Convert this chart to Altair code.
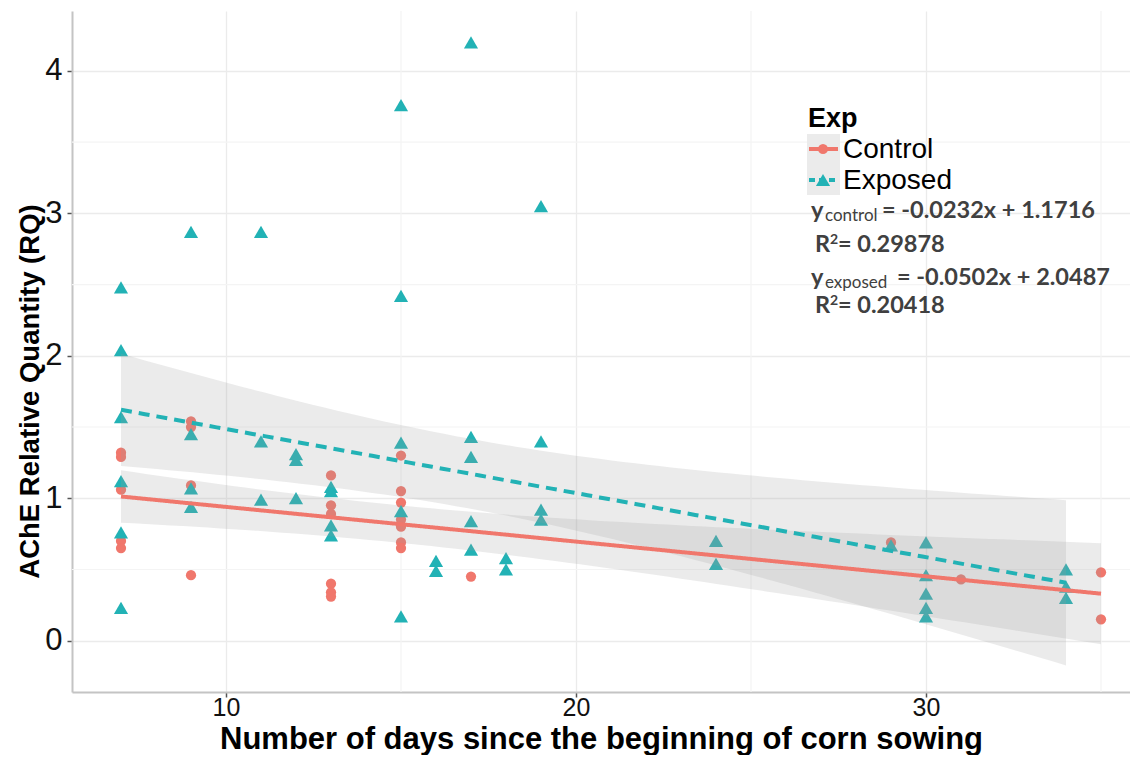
import altair as alt
import numpy as np
import pandas as pd

# ---------------- data ----------------
groups = ["Control", "Exposed"]
colors = ["#F0776C", "#22B2B5"]
shapes = ["circle", "triangle-up"]

control_days = [7, 7, 7, 7, 7,
                9, 9, 9, 9,
                13, 13, 13, 13, 13, 13,
                15, 15, 15, 15, 15, 15, 15,
                17, 29, 31, 35, 35]
control_rq = [1.32, 1.29, 1.06, 0.70, 0.65,
              1.54, 1.50, 1.09, 0.46,
              1.16, 0.95, 0.89, 0.40, 0.34, 0.31,
              1.30, 1.05, 0.97, 0.85, 0.80, 0.69, 0.65,
              0.45, 0.69, 0.43, 0.48, 0.15]

exposed_days = [7, 7, 7, 7, 7, 7,
                9, 9, 9, 9,
                11, 11, 11,
                12, 12, 12,
                13, 13, 13, 13,
                15, 15, 15, 15, 15,
                16, 16,
                17, 17, 17, 17, 17,
                18, 18,
                19, 19, 19, 19,
                24, 24,
                29,
                30, 30, 30, 30, 30,
                34, 34, 34]
exposed_rq = [2.48, 2.04, 1.57, 1.12, 0.76, 0.23,
              2.87, 1.45, 1.07, 0.94,
              2.87, 1.40, 0.99,
              1.31, 1.27, 1.00,
              1.08, 1.05, 0.81, 0.74,
              3.76, 2.42, 1.39, 0.91, 0.17,
              0.56, 0.49,
              4.20, 1.43, 1.29, 0.84, 0.64,
              0.58, 0.50,
              3.05, 1.40, 0.92, 0.85,
              0.70, 0.54,
              0.67,
              0.69, 0.46, 0.33, 0.23, 0.17,
              0.50, 0.38, 0.30]

x_major = [10, 20, 30]
x_minor = [15, 25, 35]
y_major = [0, 1, 2, 3, 4]
y_minor = [0.5, 1.5, 2.5, 3.5]

equations = [
    ("y", "control", "= -0.0232x + 1.1716"),
    ("R", "2", "= 0.29878"),
    ("y", "exposed", "= -0.0502x + 2.0487"),
    ("R", "2", "= 0.20418"),
]

# ---------------- linear fit with 95% confidence band (like geom_smooth(method="lm")) ----
def lm_band(xs, ys, npts=80):
    x = np.asarray(xs, float)
    y = np.asarray(ys, float)
    n = len(x)
    xm, ym = x.mean(), y.mean()
    sxx = ((x - xm) ** 2).sum()
    b = ((x - xm) * (y - ym)).sum() / sxx
    a = ym - b * xm
    s = np.sqrt(((y - (a + b * x)) ** 2).sum() / (n - 2))
    df = n - 2
    z = 1.959964
    t = z + (z ** 3 + z) / (4 * df) + (5 * z ** 5 + 16 * z ** 3 + 3 * z) / (96 * df ** 2)
    g = np.linspace(x.min(), x.max(), npts)
    f = a + b * g
    se = s * np.sqrt(1.0 / n + (g - xm) ** 2 / sxx)
    return g, f, f - t * se, f + t * se

pts = pd.concat([
    pd.DataFrame({"day": control_days, "rq": control_rq, "Exp": "Control"}),
    pd.DataFrame({"day": exposed_days, "rq": exposed_rq, "Exp": "Exposed"}),
], ignore_index=True)

fits = []
for gname, xs_, ys_ in [("Control", control_days, control_rq), ("Exposed", exposed_days, exposed_rq)]:
    g, f, lo, hi = lm_band(xs_, ys_)
    fits.append(pd.DataFrame({"day": g, "fit": f, "lo": lo, "hi": hi, "Exp": gname}))
fit_df = pd.concat(fits, ignore_index=True)

# ---------------- scales / axes ----------------
LAB_FONT = "Liberation Sans"
PX_PER_DAY = 35
PLOT_W = 1058
xscale = alt.Scale(domain=[5.6, 5.6 + PLOT_W / PX_PER_DAY], nice=False, zero=False)
yscale = alt.Scale(domain=[-0.36, 4.42], nice=False, zero=False)

xaxis = alt.Axis(values=x_major, title="Number of days since the beginning of corn sowing",
                 grid=True, gridColor="#ebebeb", gridWidth=1.3,
                 domain=True, domainColor="#c4c4c4", domainWidth=2,
                 ticks=True, tickColor="#555555", tickSize=5, tickWidth=1.5,
                 labelFont=LAB_FONT, labelFontSize=25, labelColor="#111111", labelPadding=-2,
                 titleFont=LAB_FONT, titleFontSize=31, titleFontWeight="bold", titleColor="#000000",
                 titleBaseline="alphabetic", titleY=56)
yaxis = alt.Axis(values=y_major, title="AChE Relative Quantity (RQ)",
                 grid=True, gridColor="#ebebeb", gridWidth=1.3,
                 domain=True, domainColor="#c4c4c4", domainWidth=2,
                 ticks=True, tickColor="#555555", tickSize=5, tickWidth=1.5,
                 labelFont=LAB_FONT, labelFontSize=31, labelColor="#111111", labelPadding=5,
                 titleFont=LAB_FONT, titleFontSize=27.5, titleFontWeight="bold", titleColor="#000000",
                 titleAngle=270, titleBaseline="middle", titleAlign="center",
                 titleX=-42, titleY=380)

def X(field):
    return alt.X(field, type="quantitative", scale=xscale, axis=xaxis)

def Y(field):
    return alt.Y(field, type="quantitative", scale=yscale, axis=yaxis)

color = alt.Color("Exp:N", scale=alt.Scale(domain=groups, range=colors), legend=None)
shape = alt.Shape("Exp:N", scale=alt.Scale(domain=groups, range=shapes), legend=None)
size = alt.Size("Exp:N", scale=alt.Scale(domain=groups, range=[105, 200]), legend=None)
dash = alt.StrokeDash("Exp:N", scale=alt.Scale(domain=groups, range=[[1, 0], [11, 7]]), legend=None)

minor_y = alt.Chart(pd.DataFrame({"v": y_minor})).mark_rule(color="#f4f4f4", strokeWidth=1.2).encode(y=Y("v"))
minor_x = alt.Chart(pd.DataFrame({"v": x_minor})).mark_rule(color="#f4f4f4", strokeWidth=1.2).encode(x=X("v"))

points = alt.Chart(pts).mark_point(filled=True, opacity=1).encode(
    x=X("day"), y=Y("rq"), color=color, shape=shape, size=size)

bands = alt.Chart(fit_df).mark_area(color="#999999", opacity=0.2).encode(
    x=X("day"), y=Y("lo"), y2="hi", detail="Exp:N")

lines = alt.Chart(fit_df).mark_line(strokeWidth=4).encode(
    x=X("day"), y=Y("fit"), color=color, strokeDash=dash)

# ---------------- legend (inside plot, top right) ----------------
OX, OY = 72, 11  # page position of plot origin
one = pd.DataFrame({"a": [0]})
leg_layers = [
    alt.Chart(one).mark_rect(color="#ebebeb").encode(
        x=alt.value(807 - OX), x2=alt.value(840 - OX), y=alt.value(134 - OY), y2=alt.value(195 - OY)),
    alt.Chart(one).mark_text(
        text="Exp", font=LAB_FONT, fontSize=27, fontWeight="bold", align="left",
        baseline="alphabetic", color="#000000").encode(x=alt.value(808 - OX), y=alt.value(127 - OY)),
]
key_dashes = [[1, 0], [6, 4]]
key_sizes = [105, 200]
for i, (gname, col, shp) in enumerate(zip(groups, colors, shapes)):
    yy = 149 + 31 * i - OY
    leg_layers.append(alt.Chart(one).mark_rule(
        color=col, strokeWidth=4, strokeDash=key_dashes[i]).encode(
        x=alt.value(809 - OX), x2=alt.value(838 - OX), y=alt.value(yy)))
    leg_layers.append(alt.Chart(one).mark_point(
        shape=shp, filled=True, size=key_sizes[i], color=col, opacity=1).encode(
        x=alt.value(823 - OX), y=alt.value(yy)))
    leg_layers.append(alt.Chart(one).mark_text(
        text=gname, font=LAB_FONT, fontSize=28, align="left", baseline="middle",
        color="#000000").encode(x=alt.value(843 - OX), y=alt.value(yy + 1)))

# ---------------- regression equations ----------------
EQ_FONT = "Lato"
EQ_COL = "#404040"
eq_layers = []
base_lines = [218, 252, 285, 313]
for (main, sub, rest), bl in zip(equations, base_lines):
    is_r = main == "R"
    eq_layers.append(alt.Chart(one).mark_text(
        text=main, font=EQ_FONT, fontSize=23.5, fontWeight="bold", color=EQ_COL,
        align="left", baseline="alphabetic").encode(
        x=alt.value((815 if is_r else 811) - OX), y=alt.value(bl - OY)))
    eq_layers.append(alt.Chart(one).mark_text(
        text=sub, font=EQ_FONT, fontSize=(14 if is_r else 17), fontWeight=("bold" if is_r else "normal"),
        color=EQ_COL, align="left", baseline="alphabetic").encode(
        x=alt.value((830 if is_r else 825) - OX), y=alt.value((bl - 8 if is_r else bl + 3) - OY)))
    if is_r:
        rx = 838
    else:
        rx = 882 if sub == "control" else 897
    eq_layers.append(alt.Chart(one).mark_text(
        text=rest, font=EQ_FONT, fontSize=23.5, fontWeight="bold", color=EQ_COL,
        align="left", baseline="alphabetic").encode(
        x=alt.value(rx - OX), y=alt.value(bl - OY)))

chart = alt.layer(minor_y, minor_x, points, bands, lines, *leg_layers, *eq_layers).properties(
    width=PLOT_W, height=681,
    autosize=alt.AutoSizeParams(type="none"),
    padding={"left": 64, "top": 3, "right": 0, "bottom": 63},
    background="white",
).configure_view(stroke=None)

chart.save("out.html", embed_options={"renderer": "svg", "actions": False})
